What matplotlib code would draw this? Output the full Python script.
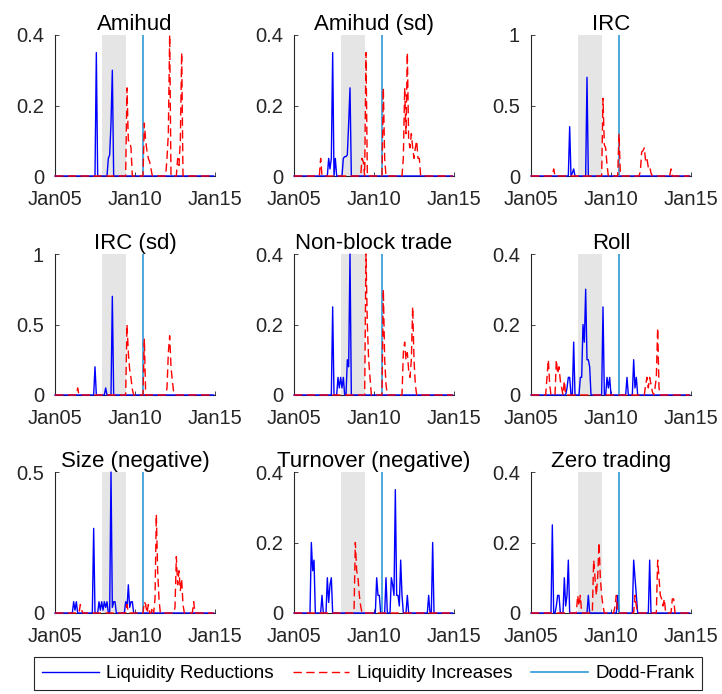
import numpy as np
import matplotlib
matplotlib.use("Agg")
import matplotlib.pyplot as plt
from matplotlib import font_manager

# ---------------- data (month index counted from Jan 2005, 120 months) -------------
N_MONTHS = 120
START_YEAR = 2005
titles = ["Amihud", "Amihud (sd)", "IRC", "IRC (sd)", "Non-block trade", "Roll",
          "Size (negative)", "Turnover (negative)", "Zero trading"]
ytops = [0.4, 0.4, 1, 1, 0.4, 0.4, 0.5, 0.4, 0.4]
xtick_years = [2005, 2010, 2015]
xtick_labels = ["Jan05", "Jan10", "Jan15"]
recession = (2007 + 11 / 12, 2009 + 5 / 12)   # Dec 2007 - Jun 2009
dodd_frank = 2010.5                            # Jul 2010

amihud_blue = {31: 0.35, 40: 0.05, 41: 0.06, 42: 0.15, 43: 0.30}
amihud_red = {54: 0.25, 55: 0.10, 56: 0.10, 57: 0.08, 67: 0.15, 68: 0.10, 69: 0.07,
              70: 0.05, 71: 0.04, 72: 0.02, 84: 0.05, 85: 0.12, 86: 0.40, 92: 0.05,
              93: 0.03, 94: 0.10, 95: 0.35}

amihud_sd_blue = {26: 0.05, 27: 0.02, 28: 0.05, 29: 0.35, 31: 0.05, 37: 0.05, 38: 0.055,
                  39: 0.055, 40: 0.06, 41: 0.15, 42: 0.25}
amihud_sd_red = {20: 0.05, 51: 0.05, 52: 0.04, 54: 0.35, 67: 0.25, 68: 0.05, 82: 0.05,
                 83: 0.25, 84: 0.12, 85: 0.35, 86: 0.10, 87: 0.08, 88: 0.12, 89: 0.08,
                 90: 0.05, 91: 0.08, 92: 0.10, 93: 0.05, 94: 0.05}

irc_blue = {29: 0.35, 31: 0.02, 32: 0.05, 42: 0.70}
irc_red = {17: 0.05, 54: 0.55, 55: 0.22, 56: 0.20, 57: 0.08, 66: 0.30, 67: 0.02,
           82: 0.03, 83: 0.17, 84: 0.18, 85: 0.20, 86: 0.10, 87: 0.12, 88: 0.06,
           89: 0.07, 90: 0.02, 105: 0.05}

irc_sd_blue = {30: 0.20, 38: 0.05, 43: 0.70}
irc_sd_red = {17: 0.05, 54: 0.50, 55: 0.30, 56: 0.18, 57: 0.12, 58: 0.04, 67: 0.40,
              84: 0.05, 85: 0.30, 86: 0.42, 87: 0.20, 88: 0.10, 89: 0.02}

nonblock_blue = {29: 0.25, 33: 0.05, 34: 0.02, 35: 0.05, 36: 0.02, 37: 0.05, 40: 0.10,
                 41: 0.08, 42: 0.40}
nonblock_red = {54: 0.40, 55: 0.20, 56: 0.10, 57: 0.05, 67: 0.30, 68: 0.10, 69: 0.03,
                82: 0.12, 83: 0.15, 84: 0.10, 85: 0.12, 86: 0.07, 87: 0.05, 88: 0.10,
                89: 0.25, 90: 0.10, 91: 0.03}

roll_blue = {27: 0.02, 28: 0.05, 29: 0.05, 32: 0.15, 37: 0.05, 38: 0.05, 39: 0.20,
             40: 0.15, 41: 0.30, 42: 0.10, 43: 0.10, 44: 0.08, 54: 0.25, 57: 0.05,
             58: 0.02, 59: 0.05, 72: 0.05, 77: 0.10, 78: 0.02, 79: 0.05}
roll_red = {12: 0.05, 13: 0.10, 14: 0.03, 19: 0.10, 20: 0.06, 21: 0.08, 22: 0.04,
            23: 0.02, 25: 0.04, 86: 0.03, 87: 0.05, 88: 0.02, 89: 0.05, 90: 0.03,
            91: 0.01, 93: 0.02, 94: 0.05, 95: 0.19, 96: 0.02}

size_blue = {14: 0.04, 15: 0.01, 16: 0.04, 29: 0.30, 33: 0.04, 34: 0.01, 35: 0.04,
             36: 0.01, 37: 0.04, 38: 0.02, 39: 0.04, 42: 0.50, 43: 0.02, 44: 0.04,
             45: 0.04, 53: 0.04, 54: 0.02, 55: 0.10, 56: 0.02, 57: 0.04, 58: 0.04}
size_red = {19: 0.03, 20: 0.01, 54: 0.03, 67: 0.04, 68: 0.03, 70: 0.03, 73: 0.02,
            75: 0.05, 76: 0.35, 77: 0.15, 78: 0.05, 90: 0.02, 91: 0.20, 92: 0.10,
            93: 0.15, 94: 0.08, 95: 0.12, 96: 0.03, 104: 0.04}

turnover_blue = {13: 0.20, 14: 0.12, 15: 0.15, 21: 0.05, 25: 0.10, 26: 0.03, 27: 0.08,
                 28: 0.10, 62: 0.10, 63: 0.05, 64: 0.05, 69: 0.10, 73: 0.10, 74: 0.08,
                 75: 0.05, 76: 0.35, 77: 0.05, 78: 0.05, 79: 0.02, 80: 0.15, 81: 0.05,
                 85: 0.05, 101: 0.05, 104: 0.20}
turnover_red = {46: 0.20, 47: 0.12, 48: 0.10, 49: 0.05, 50: 0.02}

zero_blue = {16: 0.25, 19: 0.02, 20: 0.05, 21: 0.05, 25: 0.10, 26: 0.02, 27: 0.05,
             28: 0.15, 43: 0.05, 65: 0.05, 77: 0.15, 78: 0.10, 79: 0.05, 89: 0.15}
zero_red = {35: 0.05, 36: 0.02, 37: 0.05, 47: 0.15, 48: 0.10, 49: 0.05, 50: 0.10,
            51: 0.20, 52: 0.10, 53: 0.05, 54: 0.02, 63: 0.02, 64: 0.05, 78: 0.05,
            79: 0.02, 95: 0.15, 96: 0.10, 97: 0.05, 98: 0.04, 99: 0.02, 100: 0.04,
            106: 0.04, 107: 0.04}

blue_series = [amihud_blue, amihud_sd_blue, irc_blue, irc_sd_blue, nonblock_blue,
               roll_blue, size_blue, turnover_blue, zero_blue]
red_series = [amihud_red, amihud_sd_red, irc_red, irc_sd_red, nonblock_red,
              roll_red, size_red, turnover_red, zero_red]

# ---------------- style -------------
avail = {f.name for f in font_manager.fontManager.ttflist}
base_font = "Liberation Sans" if "Liberation Sans" in avail else "DejaVu Sans"
plt.rcParams["font.family"] = [base_font, "DejaVu Sans"]

AX_COLOR = "#262626"
BLUE = "#0000FF"
RED = "#FF0000"
DF_COLOR = "#1E8FD5"
GRAY = "#E5E5E5"

fig = plt.figure(figsize=(7.22, 6.94), dpi=100)
W, H = 722, 694
col_left = [55, 294, 531]
col_w = 160
row_top = [35, 254, 472]
row_h = 141

months = np.arange(N_MONTHS)
xyears = START_YEAR + months / 12.0


def to_series(d):
    y = np.zeros(N_MONTHS)
    for k, v in d.items():
        y[k] = v
    return y


handles = None
for i in range(9):
    r, c = divmod(i, 3)
    left = col_left[c] / W
    bottom = (H - row_top[r] - row_h) / H
    ax = fig.add_axes([left, bottom, col_w / W, row_h / H])
    top = ytops[i]
    ax.axvspan(recession[0], recession[1], color=GRAY, lw=0, zorder=0)
    hb, = ax.plot(xyears, to_series(blue_series[i]), color=BLUE, lw=1.0,
                  clip_on=False, zorder=2, label="Liquidity Reductions")
    hr, = ax.plot(xyears, to_series(red_series[i]), color=RED, lw=1.0,
                  dashes=(6, 3.2), clip_on=False, zorder=3, label="Liquidity Increases")
    hd = ax.axvline(dodd_frank, color=DF_COLOR, lw=1.1, zorder=2.5, label="Dodd-Frank")
    if handles is None:
        handles = [hb, hr, hd]
    ax.set_xlim(2005, 2015)
    ax.set_ylim(0, top)
    ax.set_xticks(xtick_years)
    ax.set_xticklabels(xtick_labels)
    if top == 0.4:
        yt, yl = [0, 0.2, 0.4], ["0", "0.2", "0.4"]
    elif top == 1:
        yt, yl = [0, 0.5, 1], ["0", "0.5", "1"]
    else:
        yt, yl = [0, 0.5], ["0", "0.5"]
    ax.set_yticks(yt)
    ax.set_yticklabels(yl)
    for s in ["top", "right"]:
        ax.spines[s].set_visible(False)
    for s in ["left", "bottom"]:
        ax.spines[s].set_color(AX_COLOR)
        ax.spines[s].set_linewidth(0.8)
        ax.spines[s].set_zorder(1)
    ax.tick_params(axis="both", direction="in", length=3, width=0.6, color=AX_COLOR,
                   labelcolor=AX_COLOR, labelsize=14.5)
    ax.tick_params(axis="x", pad=10)
    ax.tick_params(axis="y", pad=8)
    ax.set_title(titles[i], fontsize=16, color="black", pad=2)
    ax.patch.set_alpha(0)

leg = fig.legend(handles=handles, loc="center", bbox_to_anchor=(0.51, 0.0295), ncol=3,
                 frameon=True, fancybox=False, framealpha=1, edgecolor=AX_COLOR,
                 prop={"size": 13.6},
                 handlelength=3.0, handletextpad=0.4, columnspacing=1.0,
                 borderpad=0.4)
leg.get_frame().set_linewidth(0.8)

fig.savefig("out.png", dpi=100, facecolor="white")
